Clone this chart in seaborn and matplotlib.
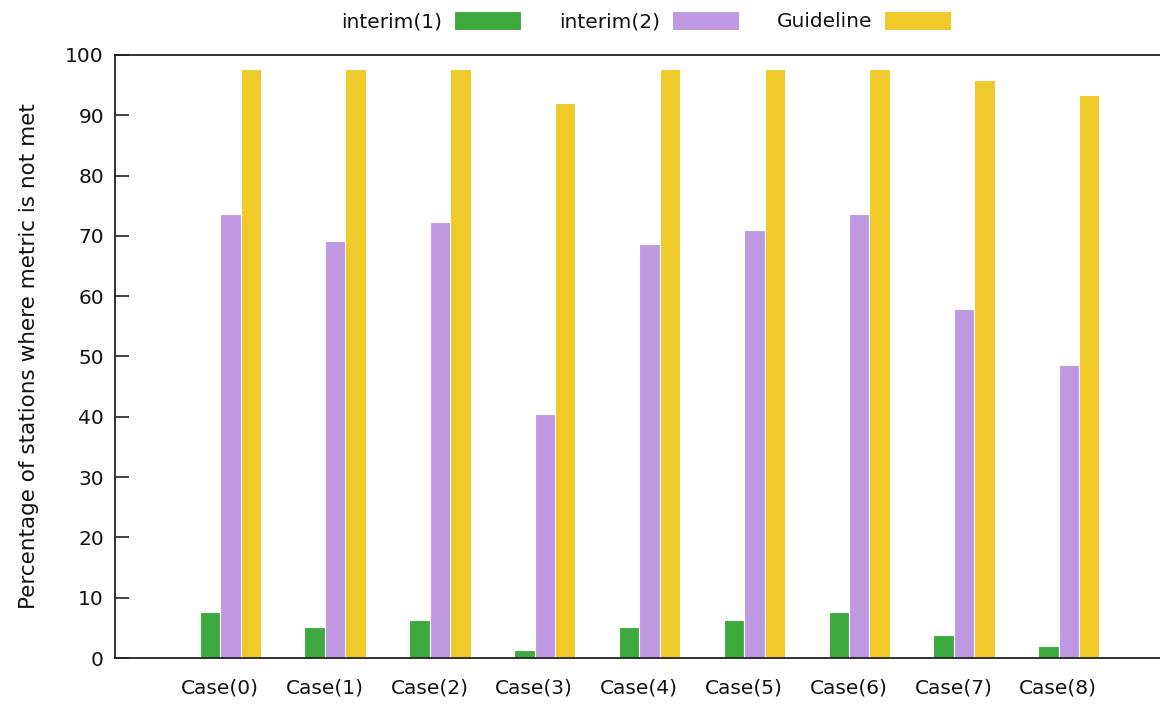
import matplotlib
matplotlib.use('Agg')
import matplotlib.pyplot as plt
import seaborn as sns
import pandas as pd
import numpy as np

# Values
cases = ['Case(0)', 'Case(1)', 'Case(2)', 'Case(3)', 'Case(4)',
         'Case(5)', 'Case(6)', 'Case(7)', 'Case(8)']
interim1 = [7.6, 5.1, 6.3, 1.3, 5.1, 6.3, 7.6, 3.8, 2.0]
interim2 = [73.6, 69.2, 72.3, 40.5, 68.7, 71.0, 73.6, 57.9, 48.6]
guideline = [97.7, 97.7, 97.7, 92.0, 97.7, 97.7, 97.7, 95.9, 93.4]
series = ['interim(1)', 'interim(2)', 'Guideline']
colors = ['#3caa3c', '#c098e2', '#f0ca28']

# Long form table for seaborn
data = pd.DataFrame({
    'case': cases * 3,
    'series': np.repeat(series, len(cases)),
    'value': interim1 + interim2 + guideline,
})

sns.set_style('white')
plt.rcParams['font.family'] = ['DejaVu Sans']
plt.rcParams['text.color'] = '#111111'
plt.rcParams['axes.labelcolor'] = '#111111'
plt.rcParams['xtick.color'] = '#111111'
plt.rcParams['ytick.color'] = '#111111'

fs = 14.5

fig = plt.figure(figsize=(11.6, 7.07), dpi=100)
ax = fig.add_axes([115 / 1160, 49 / 707, 1 - 115 / 1160, 603 / 707])

sns.barplot(data=data, x='case', y='value', hue='series', hue_order=series,
            palette=colors, width=0.585, edgecolor='white', linewidth=0.8,
            saturation=1, ax=ax)

ax.set_ylim(0, 100)
ax.set_xlim(-1.1, 8.87)
ax.set_yticks(range(0, 101, 10))
ax.set_xticks(np.arange(len(cases)) - 0.1)
ax.set_xticklabels(cases)
ax.tick_params(axis='y', direction='in', length=10, width=1.2, color='#222222',
               pad=8, labelsize=fs, left=True)
ax.tick_params(axis='x', length=0, pad=15, labelsize=fs)
ax.set_xlabel('')
ax.set_ylabel('Percentage of stations where metric is not met', fontsize=15.5,
              labelpad=19)

for side in ['left', 'bottom', 'top']:
    ax.spines[side].set_visible(True)
    ax.spines[side].set_color('#222222')
    ax.spines[side].set_linewidth(1.3)
ax.spines['right'].set_visible(False)

# Legend on top, text before the swatch
handles, labels = ax.get_legend_handles_labels()
ax.get_legend().remove()
fig.legend(handles, labels, loc='center', bbox_to_anchor=(646 / 1160, 1 - 21 / 707),
           ncol=3, frameon=False, markerfirst=False, fontsize=fs,
           handlelength=3.3, handleheight=1.1, handletextpad=0.6,
           columnspacing=1.9)

plt.savefig('out.png', dpi=100)
